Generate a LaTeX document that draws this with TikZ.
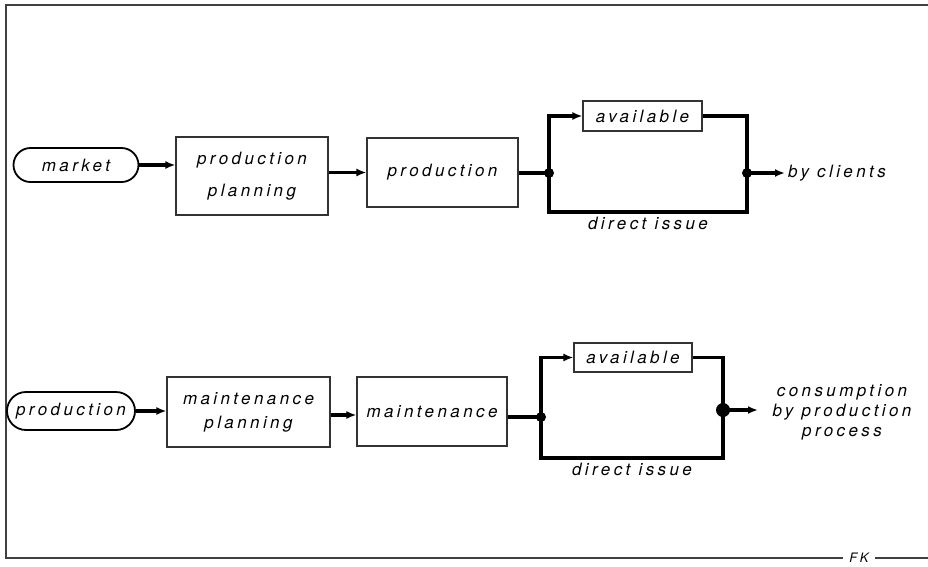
\documentclass[tikz,border=0pt]{standalone}
\usepackage{fontspec}
\setmainfont[LetterSpace=20]{TeX Gyre Heros}
\usetikzlibrary{positioning,arrows.meta,calc}
\tikzset{
	>={Latex[length=10pt,width=8pt]}
}

\begin{document}
\begin{tikzpicture}[
x = 1pt, y = -1pt,
every node/.style = {
	font = \fontsize{17}{20}\selectfont\itshape
},
pill/.style = {
	draw,
	line width = 1.8pt,
	rounded corners = 17pt,
	inner sep = 2pt
},
box/.style = {
	draw = black!80,
	line width = 1.1pt,
	align = center
},
flow/.style = {
	line width = 3.2pt
},
frame/.style = {
	draw = black!75,
	line width = 1.6pt
}
]

\useasboundingbox (0,0) rectangle (928,566);

% frame
\coordinate (tr) at (928,5);
\coordinate (tl) at (6,5);
\coordinate (bl) at (6,558);
\coordinate (gapl) at (843,558);
\coordinate (gapr) at (875,558);
\coordinate (br) at (928,558);
\draw[frame] (tr) -- (tl) -- (bl) -- (gapl);
\draw[frame] (gapr) -- (br);
\node (mark) [font = \fontsize{13}{15}\selectfont\itshape, inner sep = 0pt] at ($(gapl)!0.5!(gapr)$) {FK};

% upper row
\node (market) [pill, minimum width = 125pt, minimum height = 34pt] at (76,165) {market};
\node (pplan) [box, minimum width = 152pt, minimum height = 78pt] at (252,176) {production\\[12pt]planning};
\node (prod) [box, minimum width = 151pt, minimum height = 69pt] at (442.5,172.5) {production};
\coordinate (split) at (549,173);
\node (avail) [box, minimum width = 119pt, minimum height = 30pt] at (642.5,116) {available};
\coordinate (join) at (747,173);
\coordinate (low) at (549,212);
\node (issue) [below = 2pt of $(low)!0.5!(low -| join)$] {direct issue};
\node (clients) [anchor = west, inner sep = 3pt] at (785,173) {by clients};

\draw[flow, ->] (market.east) -- (market.east -| pplan.west);
\draw[flow, ->] (pplan.east |- prod.west) -- (prod.west);
\draw[flow] (prod.east |- split) -- (split);
\draw[flow, ->] (split) |- (avail.west);
\draw[flow] (avail.east) -| (join);
\draw[flow] (split) -- (low) -| (join);
\draw[flow, ->] (join) -- (clients.west);
\fill (split) circle (5pt);
\fill (join) circle (5pt);

% lower row
\node (mprod) [pill, minimum width = 128pt, minimum height = 38pt, rounded corners = 19pt] at (71,411) {production};
\node (mplan) [box, minimum width = 163pt, minimum height = 70pt] at (248.5,412) {maintenance\\[4pt]planning};
\node (maint) [box, minimum width = 150pt, minimum height = 69pt] at (432,411.5) {maintenance};
\coordinate (msplit) at (541,417);
\node (mavail) [box, minimum width = 118pt, minimum height = 29pt] at (633,357.5) {available};
\coordinate (mjoin) at (723,410);
\coordinate (mlow) at (541,458);
\node (missue) [below = 2pt of $(mlow)!0.5!(mlow -| mjoin)$] {direct issue};
\coordinate (mend) at (758,410);
\node (consume) [align = center, inner sep = 0pt] at (842,412) {consumption\\by production\\process};

\draw[flow, ->] (mprod.east) -- (mprod.east -| mplan.west);
\draw[flow, ->] (mplan.east |- 0,415) -- (maint.west |- 0,415);
\draw[flow] (maint.east |- msplit) -- (msplit);
\draw[flow, ->] (msplit) |- (mavail.west);
\draw[flow] (mavail.east) -| (mjoin);
\draw[flow] (msplit) -- (mlow) -| (mjoin);
\draw[flow, ->] (mjoin) -- (mend);
\fill (msplit) circle (5pt);
\fill (mjoin) circle (7pt);

\end{tikzpicture}
\end{document}
